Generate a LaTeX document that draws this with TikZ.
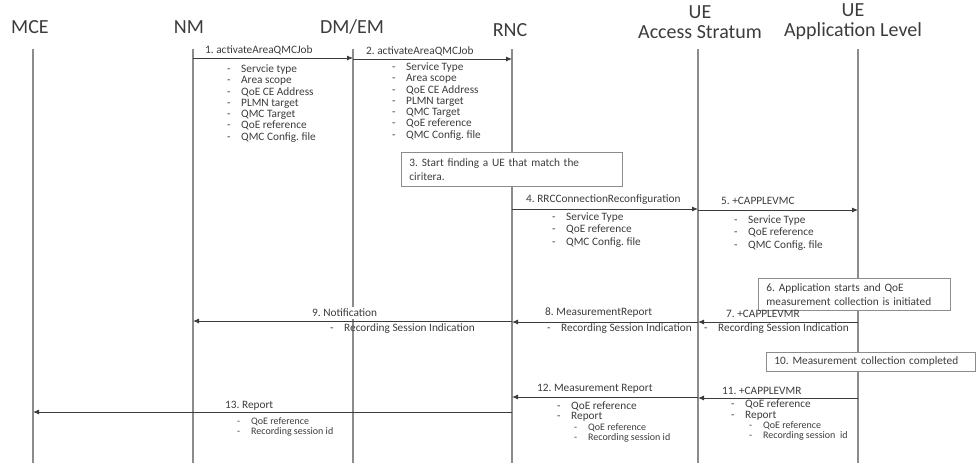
\documentclass[tikz,border=0pt]{standalone}
\usepackage{fontspec}
\setmainfont{Carlito}
\usetikzlibrary{arrows.meta}
\definecolor{txtgray}{HTML}{3C3C3C}
\definecolor{linegray}{HTML}{8C8C8C}
\newcommand{\itm}[1]{\makebox[14pt][l]{-}#1}

\begin{document}
\frenchspacing
\begin{tikzpicture}[x=1pt,y=-1pt,
    every node/.style={text=txtgray,inner sep=0pt},
    head/.style={font=\fontsize{20}{20}\selectfont,align=center},
    lbl/.style={anchor=west,font=\fontsize{11.3}{12}\selectfont},
    lst/.style={anchor=north west,align=left,font=\fontsize{11.3}{11.3}\selectfont},
    sublst/.style={anchor=north west,align=left,font=\fontsize{10}{10}\selectfont},
    life/.style={draw=linegray,line width=1.2pt},
    msg/.style={draw=txtgray,line width=0.9pt,-{Latex[length=6pt,width=5pt]}},
    note/.style={draw=linegray,fill=white,line width=0.9pt,anchor=north west,align=left,
        inner xsep=8pt,font=\fontsize{11.3}{14.5}\selectfont}]

    \useasboundingbox (0,0) rectangle (976,463);

    % Heads of the lifelines
    \node[head] (mce) at (30,27) {MCE};
    \node[head] (nm) at (189,27) {NM};
    \node[head] (dmem) at (352,27) {DM/EM};
    \node[head] (rnc) at (510,30) {RNC};
    \node[head] (ueas) at (700,22) {UE\\Access Stratum};
    \node[head] (ueal) at (853,22) {UE\\Application Level};

    % Lifelines
    \foreach \n/\x in {mce/33,nm/193,dmem/353,rnc/512,ueas/698,ueal/858}{
        \coordinate (\n-top) at (\x,49);
        \coordinate (\n-bot) at (\x,463);
        \draw[life] (\n-top) -- (\n-bot);
    }

    % Rows of the messages
    \coordinate (r1) at (0,58);
    \coordinate (r2) at (0,59);
    \coordinate (r4) at (0,209);
    \coordinate (r5) at (0,210);
    \coordinate (r9) at (0,321);
    \coordinate (r8) at (0,322);
    \coordinate (r7) at (0,322);
    \coordinate (r12) at (0,397);
    \coordinate (r11) at (0,398);
    \coordinate (r13) at (0,412);

    % 1. and 2. activate the job
    \draw[msg] (nm-top |- r1) -- (dmem-top |- r1);
    \node[lbl] (l1) at (205,50) {1. activateAreaQMCJob};
    \node[lst] (i1) at (227,64.5) {\itm{Servcie type}\\\itm{Area scope}\\\itm{QoE CE Address}\\
        \itm{PLMN target}\\\itm{QMC Target}\\\itm{QoE reference}\\\itm{QMC Config. file}};
    \draw[msg] (dmem-top |- r2) -- (rnc-top |- r2);
    \node[lbl] (l2) at (366,51) {2. activateAreaQMCJob};
    \node[lst] (i2) at (392,62.5) {\itm{Service Type}\\\itm{Area scope}\\\itm{QoE CE Address}\\
        \itm{PLMN target}\\\itm{QMC Target}\\\itm{QoE reference}\\\itm{QMC Config. file}};

    % 3. find a UE
    \node[note,text width=205pt,minimum height=34pt] (find) at (401,152)
        {3. Start finding a UE that match the\\ciritera.};

    % 4. and 5. configuration
    \draw[msg] (rnc-top |- r4) -- (ueas-top |- r4);
    \node[lbl] (l4) at (526,200) {4. RRCConnectionReconfiguration};
    \node[lst,font=\fontsize{11.3}{12.5}\selectfont] (i4) at (552,212.5)
        {\itm{Service Type}\\\itm{QoE reference}\\\itm{QMC Config. file}};
    \draw[msg] (ueas-top |- r5) -- (ueal-top |- r5);
    \node[lbl] (l5) at (721,201) {5. +CAPPLEVMC};
    \node[lst,font=\fontsize{11.3}{12.5}\selectfont] (i5) at (734,215.5)
        {\itm{Service Type}\\\itm{QoE reference}\\\itm{QMC Config. file}};

    % 6. collection starts
    \node[note,text width=176pt,minimum height=32pt] (start) at (758,278)
        {6. Application starts and QoE\\measurement collection is initiated};

    % 7., 8. and 9. recording session indication
    \draw[msg] (ueal-top |- r7) -- (ueas-top |- r7);
    \node[lbl] (l7) at (726,314) {7. +CAPPLEVMR};
    \node[lst] (i7) at (704,323.5) {\itm{Recording Session Indication}};
    \draw[msg] (ueas-top |- r8) -- (rnc-top |- r8);
    \node[lbl] (l8) at (545,313) {8. MeasurementReport};
    \node[lst] (i8) at (547,323.5) {\itm{Recording Session Indication}};
    \draw[msg] (rnc-top |- r9) -- (nm-top |- r9);
    \node[lbl,fill=white,inner ysep=2pt] (l9) at (312,313) {9. Notification};
    \node[lst] (i9) at (330,323.5) {\itm{Recording Session Indication}};

    % 10. collection done
    \node[note,text width=193pt,minimum height=19pt] (done) at (766,352)
        {10. Measurement collection completed};

    % 11., 12. and 13. report
    \draw[msg] (ueal-top |- r11) -- (ueas-top |- r11);
    \node[lbl] (l11) at (722,391) {11. +CAPPLEVMR};
    \node[lst] (i11) at (731,399.5) {\itm{QoE reference}\\\itm{Report}};
    \node[sublst] (s11) at (749,421) {\itm{QoE reference}\\\itm{Recording session\ \ id}};
    \draw[msg] (ueas-top |- r12) -- (rnc-top |- r12);
    \node[lbl] (l12) at (537,389) {12. Measurement Report};
    \node[lst,font=\fontsize{11.3}{10.5}\selectfont] (i12) at (557,401.5) {\itm{QoE reference}\\\itm{Report}};
    \node[sublst] (s12) at (574,423) {\itm{QoE reference}\\\itm{Recording session id}};
    \draw[msg] (rnc-top |- r13) -- (mce-top |- r13);
    \node[lbl] (l13) at (225,406) {13. Report};
    \node[sublst] (i13) at (237,417) {\itm{QoE reference}\\\itm{Recording session id}};

\end{tikzpicture}
\end{document}
